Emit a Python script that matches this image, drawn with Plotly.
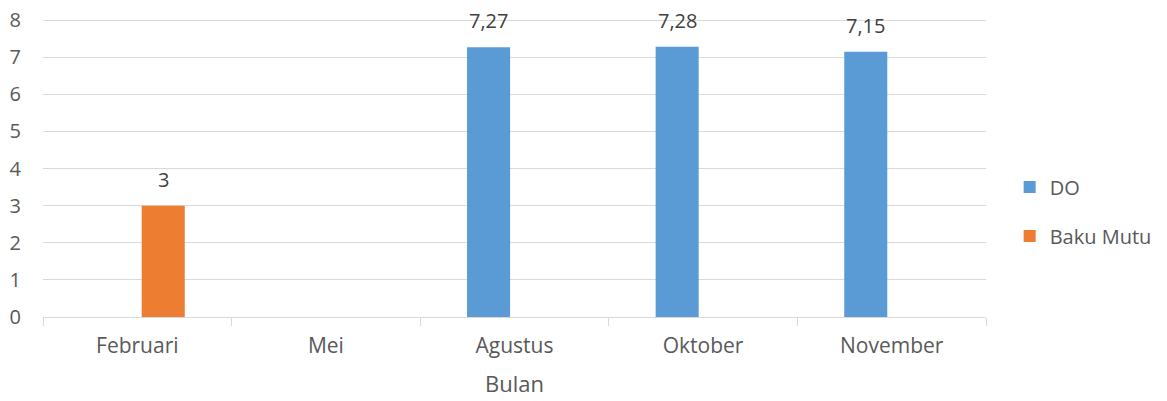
import plotly.graph_objects as go

months = ["Februari", "Mei", "Agustus", "Oktober", "November"]
do_values = [None, None, 7.27, 7.28, 7.15]
baku_mutu = [3, None, None, None, None]
y_ticks = [0, 1, 2, 3, 4, 5, 6, 7, 8]

FONT = "Open Sans"
TXT = "#595959"

fig = go.Figure()
fig.add_trace(go.Bar(name="DO", x=months, y=do_values, marker_color="#5B9BD5",
                     marker_line_width=0, legendgroup="a"))
fig.add_trace(go.Bar(name="Baku Mutu", x=months, y=baku_mutu, marker_color="#ED7D31",
                     marker_line_width=0, legendgroup="b"))

# data labels
for vals, shift in ((do_values, -26), (baku_mutu, 26)):
    for m, v in zip(months, vals):
        if v is None:
            continue
        txt = (f"{v:.2f}".replace(".", ",")) if isinstance(v, float) else str(v)
        fig.add_annotation(x=m, y=v, xref="x", yref="y", text=txt, showarrow=False,
                           xshift=shift, yshift=11, yanchor="bottom",
                           font=dict(family=FONT, size=20, color="#404040"))

# page body has an 8px margin, so the figure is 8px smaller and margins shifted
fig.update_layout(
    width=1159, height=393,
    margin=dict(l=35, r=180, t=11, b=84),
    paper_bgcolor="white", plot_bgcolor="white",
    barmode="group", bargap=0.45, bargroupgap=0.17,
    font=dict(family=FONT, size=21, color=TXT),
    separators=",.",
    legend=dict(x=1.024, y=0.354, xanchor="left", yanchor="middle",
                tracegroupgap=20, font=dict(family=FONT, size=20, color=TXT),
                itemwidth=30),
    showlegend=True,
)
fig.update_xaxes(type="category", showline=True, linecolor="#d9d9d9", linewidth=1,
                 ticks="outside", tickson="boundaries", ticklen=8, tickcolor="#d9d9d9",
                 showgrid=False, tickfont=dict(size=21, color=TXT), automargin=False,
                 ticklabelstandoff=10,
                 title=dict(text="Bulan", font=dict(size=22, color=TXT), standoff=18))
fig.update_yaxes(range=[0, 8.03], tickvals=y_ticks, showgrid=True, gridcolor="#d9d9d9",
                 gridwidth=1, zeroline=False, showline=False, ticks="", automargin=False,
                 ticklabeloverflow="allow",
                 tickfont=dict(size=20, color=TXT), ticklabelstandoff=21)

fig.write_html("out.html")
